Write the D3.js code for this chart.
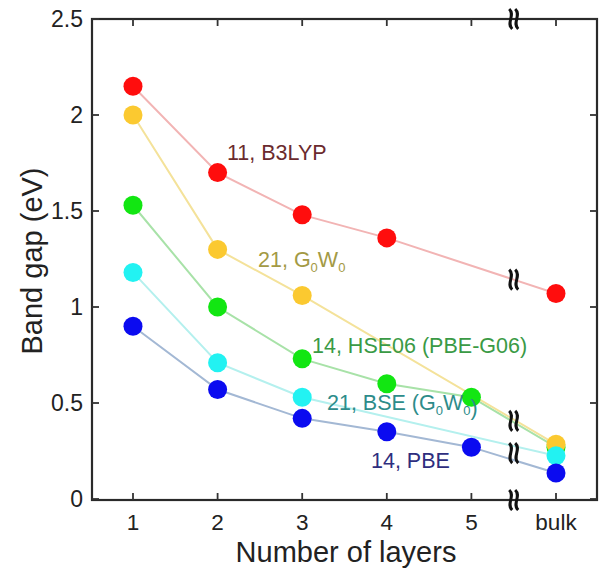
<!DOCTYPE html>
<html>
<head>
<meta charset="utf-8">
<script src="https://cdn.jsdelivr.net/npm/d3@7"></script>
<style>
  body { margin: 0; background: #fff; }
  text { font-family: "Liberation Sans", Arial, sans-serif; }
</style>
</head>
<body>
<svg id="chart" width="605" height="574"></svg>
<script>
// categories on the x axis (position 1..6)
const layers = ["1", "2", "3", "4", "5", "bulk"];
const yTicks = [0, 0.5, 1, 1.5, 2, 2.5];

// band gap values (eV), null = no point
const b3lyp  = [2.15, 1.70, 1.48, 1.36, null, 1.07];
const g0w0   = [2.00, 1.30, 1.06, null, null, 0.285];
const hse06  = [1.53, 1.00, 0.73, 0.60, 0.53, 0.27];
const bse    = [1.18, 0.71, 0.53, null, null, 0.225];
const pbe    = [0.90, 0.57, 0.42, 0.35, 0.27, 0.135];

const seriesNames = ["11, B3LYP", "21, G0W0", "14, HSE06 (PBE-G06)", "21, BSE (G0W0)", "14, PBE"];

const svg = d3.select("#chart");
const pLeft = 92, pRight = 597, pTop = 19, pBottom = 500;

const x = d3.scaleLinear().domain([1, 6]).range([133, 556]);
const y = d3.scaleLinear().domain([0, 2.5]).range([499, 19]);

// series styling: point colour, line colour, label colour, label spot
const series = [
  { vals: b3lyp, dot: "#ff0d0d", line: "#f2b4b4", lab: "#6b2b2e", lx: 227, ly: 160, name: seriesNames[0] },
  { vals: hse06, dot: "#12e612", line: "#a8e2a8", lab: "#3a9a45", lx: 312, ly: 353, name: seriesNames[2] },
  { vals: g0w0,  dot: "#fbc930", line: "#f4e29a", lab: "#a39a45", lx: 258, ly: 267, name: seriesNames[1] },
  { vals: bse,   dot: "#22f2f2", line: "#b4f0ee", lab: "#2d8c8a", lx: 327, ly: 410, name: seriesNames[3] },
  { vals: pbe,   dot: "#0b0bf0", line: "#a3b8d4", lab: "#2e2e7e", lx: 371, ly: 468, name: seriesNames[4] }
];

function pts(vals) {
  return vals.map((v, i) => ({ i: i + 1, v: v })).filter(d => d.v !== null);
}

// frame
svg.append("rect")
  .attr("x", pLeft).attr("y", pTop)
  .attr("width", pRight - pLeft).attr("height", pBottom - pTop)
  .attr("fill", "none").attr("stroke", "#2a2a2a").attr("stroke-width", 2.2);

// ticks (inward on all four sides)
const tk = 7;
svg.selectAll(".xtb").data(layers).enter().append("line")
  .attr("x1", (d, i) => x(i + 1)).attr("x2", (d, i) => x(i + 1))
  .attr("y1", pBottom).attr("y2", pBottom - tk)
  .attr("stroke", "#333").attr("stroke-width", 1.8);
svg.selectAll(".xtt").data(layers).enter().append("line")
  .attr("x1", (d, i) => x(i + 1)).attr("x2", (d, i) => x(i + 1))
  .attr("y1", pTop).attr("y2", pTop + tk)
  .attr("stroke", "#333").attr("stroke-width", 1.8);
svg.selectAll(".ytl").data(yTicks).enter().append("line")
  .attr("x1", pLeft).attr("x2", pLeft + tk)
  .attr("y1", d => y(d)).attr("y2", d => y(d))
  .attr("stroke", "#333").attr("stroke-width", 1.8);
svg.selectAll(".ytr").data(yTicks).enter().append("line")
  .attr("x1", pRight).attr("x2", pRight - tk)
  .attr("y1", d => y(d)).attr("y2", d => y(d))
  .attr("stroke", "#333").attr("stroke-width", 1.8);

// tick labels
svg.selectAll(".xl").data(layers).enter().append("text")
  .text(d => d)
  .attr("x", (d, i) => x(i + 1)).attr("y", 530)
  .attr("text-anchor", "middle").attr("font-size", 22.5).attr("fill", "#222");
svg.selectAll(".yl").data(yTicks).enter().append("text")
  .text(d => d)
  .attr("x", 83).attr("y", d => y(d) + 8)
  .attr("text-anchor", "end").attr("font-size", 23).attr("fill", "#222");

// axis titles
svg.append("text").text("Number of layers")
  .attr("x", 346).attr("y", 562)
  .attr("text-anchor", "middle").attr("font-size", 29).attr("fill", "#222");
svg.append("text").text("Band gap (eV)")
  .attr("transform", "translate(42,261) rotate(-90)")
  .attr("text-anchor", "middle").attr("font-size", 29).attr("fill", "#222");

// lines
const line = d3.line().x(d => x(d.i)).y(d => y(d.v));
series.forEach(s => {
  svg.append("path").datum(pts(s.vals))
    .attr("d", line)
    .attr("fill", "none").attr("stroke", s.line).attr("stroke-width", 2);
});

// points
series.forEach(s => {
  svg.selectAll(null).data(pts(s.vals)).enter().append("circle")
    .attr("cx", d => x(d.i)).attr("cy", d => y(d.v)).attr("r", 9.5)
    .attr("fill", s.dot);
});

// series labels (0 subscripts)
series.forEach(s => {
  const t = svg.append("text")
    .attr("x", s.lx).attr("y", s.ly)
    .attr("font-size", 21.5).attr("fill", s.lab);
  const parts = s.name.split(/(G0W0)/);
  parts.forEach(p => {
    if (p === "G0W0") {
      t.append("tspan").text("G");
      t.append("tspan").text("0").attr("font-size", 13).attr("dy", 5);
      t.append("tspan").text("W").attr("dy", -5);
      t.append("tspan").text("0").attr("font-size", 13).attr("dy", 5);
      t.append("tspan").text("").attr("dy", -5);
    } else if (p.length) {
      t.append("tspan").text(p);
    }
  });
});

// break marks between 5 and bulk
const bx = x(5.5);
function lineYAt(vals, xv) {
  const p = pts(vals);
  for (let k = 0; k < p.length - 1; k++) {
    if (p[k].i <= xv && p[k + 1].i >= xv) {
      const t = (xv - p[k].i) / (p[k + 1].i - p[k].i);
      return y(p[k].v + t * (p[k + 1].v - p[k].v));
    }
  }
  return null;
}
const breakYs = [
  pBottom, pTop,
  lineYAt(b3lyp, 5.5),
  (lineYAt(g0w0, 5.5) + lineYAt(hse06, 5.5)) / 2,
  (lineYAt(bse, 5.5) + lineYAt(pbe, 5.5)) / 2
];
breakYs.forEach(by => {
  [-3, 3].forEach(dx => {
    const cx = bx + dx;
    svg.append("path")
      .attr("d", `M${cx - 1.5},${by - 10} C${cx + 5},${by - 4} ${cx - 5},${by + 4} ${cx + 1.5},${by + 10}`)
      .attr("fill", "none").attr("stroke", "#111").attr("stroke-width", 3);
  });
});
</script>
</body>
</html>
